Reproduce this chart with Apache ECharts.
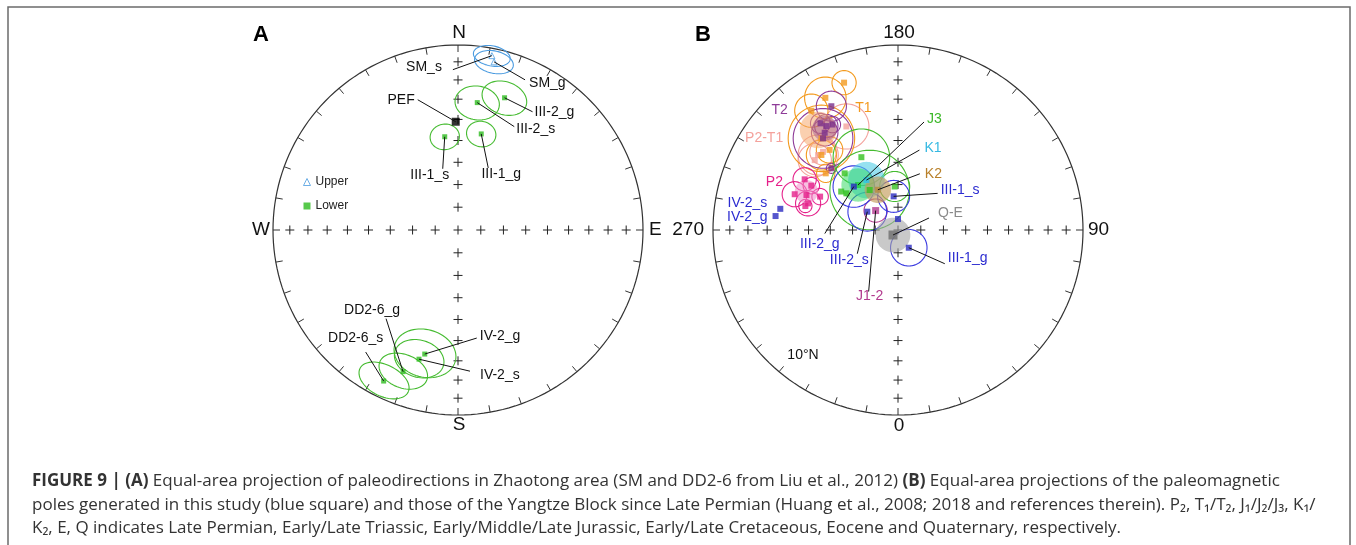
<!DOCTYPE html>
<html><head><meta charset="utf-8">
<script src="https://cdn.jsdelivr.net/npm/echarts@6/dist/echarts.min.js"></script>
<style>html,body{margin:0;padding:0;background:#fff}#c{width:1356px;height:545px}</style>
</head><body><div id="c"></div>
<script>
// ===== Panel A: site-mean directions [dec, inc, a95] =====
const dirNames = ['SM_s','SM_g','PEF','III-2_s','III-2_g','III-1_s','III-1_g','DD2-6_s','DD2-6_g','IV-2_g','IV-2_s'];
const dirDec   = [11.0, 12.1, 358.8, 8.6, 19.4, 351.9, 13.6, 206.2, 201.2, 195.0, 196.8];
const dirInc   = [-4.5, -7.8, 41.1, 31.0, 25.2, 47.8, 45.6, 9.9, 19.0, 31.2, 27.9];
const dirA95   = [6.0, 6.5, 0, 8.5, 8.5, 6.0, 6.0, 9.0, 9.0, 12.0, 9.5];

// ===== Panel B: poles [lon, lat, A95] =====
const polesT1   = [[200.1,16.3,5.3],[208.8,19.6,9.1],[216.0,21.4,7.3],[219.9,35.7,14.6],[220.5,42.5,5.8],[231.9,48.9,4.0],[225.6,41.6,6.6]];
const polesT2   = [[208.3,25.0,6.6],[216.0,29.5,4.4],[214.6,32.3,5.1],[211.9,33.3,3.6],[217.0,34.5,5.8],[219.3,36.2,13.1],[227.2,49.4,2.2]];
const polesP2T1 = [[206.5,37.5,9.9],[226.8,40.5,8.8],[230.0,40.9,7.3],[223.8,41.1,5.8]];
const polesP2   = [[241.5,42.1,5.1],[242.9,46.3,3.6],[250.9,40.6,5.5],[246.8,52.2,3.6],[253.5,48.0,5.5],[249.1,46.0,0],[255.5,47.1,2.9]];
const polesJ3   = [[206.7,53.7,12.4],[223.3,55.4,0],[235.9,59.6,0],[234.6,62.0,0],[184.4,70.8,6.6],[215.3,68.4,17.5]];
const polesJ12  = [[229.0,77.0,5.1]];
const studyNames = ['III-2_g','III-2_s','III-1_s','III-1_g','IV-2_s','IV-2_g',''];
const polesStudy = [[225.5,62.6,9.1],[239.2,74.3,8.5],[187.4,75.1,7.0],[31.3,80.9,8.0],[259.8,35.6,0],[263.5,33.8,0],[180.0,85.2,0]];
// mean poles (shaded)
const meanT2   = [[215.8,32.8,5.5]];
const meanP2T1 = [[218.6,31.4,8.0]];
const meanP2   = [[247.3,45.4,5.1]];
const meanJ3   = [[221.6,63.4,7.3]];
const meanK1   = [[212.3,63.9,8.0]];
const meanK2   = [[206.6,70.2,5.8]];
const meanQE   = [[315.0,86.9,7.6]];

// net ticks
const crossIncs = [10,20,30,40,50,60,70,80];
const rimTicks = Array.from({length:36},(_,i)=>i*10);

const FONT = '"Liberation Sans", Arial, Helvetica, sans-serif';
const CAPFONT = '"Open Sans", "Liberation Sans", Arial, sans-serif';
const D = Math.PI/180;

function projDir(dec, inc){ const r=Math.SQRT2*Math.sin((90-Math.abs(inc))*D/2); return [r*Math.sin(dec*D), r*Math.cos(dec*D)]; }
function projPole(lon, lat){ const r=Math.SQRT2*Math.sin((90-lat)*D/2); return [r*Math.sin(lon*D), -r*Math.cos(lon*D)]; }
function coneA(dec, inc, a95){
  const I=Math.abs(inc)*D, Dd=dec*D, a=a95*D;
  const m=[Math.cos(I)*Math.cos(Dd), Math.cos(I)*Math.sin(Dd), Math.sin(I)];
  const u=[Math.sin(I)*Math.cos(Dd), Math.sin(I)*Math.sin(Dd), -Math.cos(I)];
  const v=[-Math.sin(Dd), Math.cos(Dd), 0];
  const pts=[];
  for(let k=0;k<72;k++){ const t=k*5*D;
    const p=[0,1,2].map(i=>Math.cos(a)*m[i]+Math.sin(a)*(Math.cos(t)*u[i]+Math.sin(t)*v[i]));
    const h=Math.hypot(p[0],p[1])||1e-9; const r=Math.sqrt(Math.max(0,1-p[2]));
    pts.push([r*p[1]/h, r*p[0]/h]); }
  return pts;
}

function netSeries(gi, card, off){
  return {type:'custom', xAxisIndex:gi, yAxisIndex:gi, silent:true, clip:false, z:1, data:[[0,0]],
    renderItem(params, api){
      const ch=[];
      const rim=[]; for(let k=0;k<=360;k+=2) rim.push(api.coord([Math.sin(k*D),Math.cos(k*D)]));
      ch.push({type:'polyline', shape:{points:rim}, style:{stroke:'#333', lineWidth:1.2, fill:null}});
      const c=api.coord([0,0]);
      rimTicks.forEach(az=>{ const p=api.coord([Math.sin(az*D),Math.cos(az*D)]); const L=Math.hypot(p[0]-c[0],p[1]-c[1]);
        const ux=(c[0]-p[0])/L, uy=(c[1]-p[1])/L;
        ch.push({type:'line', shape:{x1:p[0],y1:p[1],x2:p[0]+ux*7,y2:p[1]+uy*7}, style:{stroke:'#333',lineWidth:1}}); });
      const cp=[[0,0]]; crossIncs.forEach(i=>{const r=Math.SQRT2*Math.sin((90-i)*D/2); cp.push([r,0],[-r,0],[0,r],[0,-r]);});
      cp.forEach(q=>{ const p=api.coord(q);
        ch.push({type:'line',shape:{x1:p[0]-4.5,y1:p[1],x2:p[0]+4.5,y2:p[1]},style:{stroke:'#222',lineWidth:1}});
        ch.push({type:'line',shape:{x1:p[0],y1:p[1]-4.5,x2:p[0],y2:p[1]+4.5},style:{stroke:'#222',lineWidth:1}}); });
      const t=api.coord([0,1]), b=api.coord([0,-1]), l=api.coord([-1,0]), r=api.coord([1,0]);
      const f='19px '+FONT;
      ch.push({type:'text', x:t[0]+1, y:t[1]+off[0], style:{text:card[0], font:f, fill:'#111', align:'center', verticalAlign:'middle'}});
      ch.push({type:'text', x:r[0]+off[1], y:r[1], style:{text:card[1], font:f, fill:'#111', align:'left', verticalAlign:'middle'}});
      ch.push({type:'text', x:b[0]+1, y:b[1]+off[2], style:{text:card[2], font:f, fill:'#111', align:'center', verticalAlign:'middle'}});
      ch.push({type:'text', x:l[0]+off[3], y:l[1], style:{text:card[3], font:f, fill:'#111', align:'right', verticalAlign:'middle'}});
      return {type:'group', children:ch};
    }};
}

function ellipsesA(idx, color){
  return {type:'custom', xAxisIndex:0, yAxisIndex:0, silent:true, clip:false, z:2,
    data: idx.map(i=>[dirDec[i], dirInc[i], dirA95[i]]),
    renderItem(params, api){
      const pts=coneA(api.value(0), api.value(1), api.value(2)).map(q=>api.coord(q));
      return {type:'polygon', shape:{points:pts}, style:{fill:null, stroke:color, lineWidth:1.1}};
    }};
}

function circlesB(list, stroke, fill, z){
  return {type:'custom', xAxisIndex:1, yAxisIndex:1, silent:true, clip:false, z:z||2,
    data: list.filter(d=>d[2]>0),
    renderItem(params, api){
      const c=projPole(api.value(0), api.value(1)); const rho=Math.SQRT2*Math.sin(api.value(2)*D/2);
      const pts=[]; for(let k=0;k<72;k++){const t=k*5*D; pts.push(api.coord([c[0]+rho*Math.cos(t), c[1]+rho*Math.sin(t)]));}
      return {type:'polygon', shape:{points:pts}, style: fill ? {fill:fill, stroke:null} : {fill:null, stroke:stroke, lineWidth:1.1}};
    }};
}
function pointsB(list, color, size, name){
  return {type:'scatter', name:name, xAxisIndex:1, yAxisIndex:1, silent:true, z:4, symbol:'rect', symbolSize:size||6,
    itemStyle:{color:color}, data:list.map(d=>projPole(d[0],d[1]))};
}

// ===== label layout (pixel offsets from the anchor mark) =====
const layoutA = {
  'SM_s':{line:[-39,14], text:[-50,11], align:'right'},
  'SM_g':{line:[31,18], text:[35,21], align:'left'},
  'PEF':{line:[-38,-22], text:[-41,-22], align:'right'},
  'III-2_g':{line:[28,14], text:[30,14], align:'left'},
  'III-2_s':{line:[37,24], text:[39,27], align:'left'},
  'III-1_s':{line:[-2,32], text:[-15,38], align:'center'},
  'III-1_g':{line:[7,34], text:[20,40], align:'center'},
  'DD2-6_g':{line:[-17,-53], text:[-31,-62], align:'center'},
  'DD2-6_s':{line:[-18,-29], text:[-28,-43], align:'center'},
  'IV-2_g':{line:[52,-16], text:[55,-18], align:'left'},
  'IV-2_s':{line:[51,12], text:[61,16], align:'left'}
};
const BLUE='#2B2BD0';
const labelsB = [
  {t:'T2', at:meanT2[0], c:'#8E3B98', text:[-45,-18], align:'center'},
  {t:'T1', at:polesT1[1], c:'#F39A1E', text:[38,10], align:'center'},
  {t:'P2-T1', at:meanP2T1[0], c:'#F4A29C', text:[-54,8], align:'center'},
  {t:'P2', at:meanP2[0], c:'#E5208A', text:[-32,-10], align:'center'},
  {t:'J3', at:meanJ3[0], c:'#3CB829', line:[66,-63], text:[69,-66], align:'left'},
  {t:'K1', at:meanK1[0], c:'#36B9E2', line:[53,-30], text:[58,-32], align:'left'},
  {t:'K2', at:meanK2[0], c:'#B8802A', line:[42,-16], text:[47,-16], align:'left'},
  {t:'III-1_s', at:polesStudy[2], c:BLUE, line:[44,-3], text:[47,-6], align:'left'},
  {t:'Q-E', at:meanQE[0], c:'#8A8A8A', line:[36,-17], text:[45,-22], align:'left'},
  {t:'III-1_g', at:polesStudy[3], c:BLUE, line:[36,16], text:[39,10], align:'left'},
  {t:'IV-2_s', at:polesStudy[4], c:BLUE, text:[-13,-6], align:'right'},
  {t:'IV-2_g', at:polesStudy[5], c:BLUE, text:[-8,1], align:'right'},
  {t:'III-2_g', at:polesStudy[0], c:BLUE, line:[-29,47], text:[-34,58], align:'center'},
  {t:'III-2_s', at:polesStudy[1], c:BLUE, line:[-10,42], text:[-18,48], align:'center'},
  {t:'J1-2', at:polesJ12[0], c:'#B23A8E', line:[-7,81], text:[-6,86], align:'center'}
];

function labelSeries(gi, items){
  return {type:'custom', xAxisIndex:gi, yAxisIndex:gi, silent:true, clip:false, z:6,
    data: items.map(o=>o.p),
    renderItem(params, api){
      const o=items[params.dataIndex]; const p=api.coord([api.value(0),api.value(1)]); const ch=[];
      if(o.line) ch.push({type:'line', shape:{x1:p[0],y1:p[1],x2:p[0]+o.line[0],y2:p[1]+o.line[1]}, style:{stroke:'#111',lineWidth:1}});
      ch.push({type:'text', x:p[0]+o.text[0], y:p[1]+o.text[1], style:{text:o.t, font:'14px '+FONT, fill:o.c, align:o.align, verticalAlign:'middle'}});
      return {type:'group', children:ch};
    }};
}

const itemsA = dirNames.map((n,i)=>Object.assign({t:n, c:'#111', p:projDir(dirDec[i],dirInc[i])}, layoutA[n]));
const itemsB = labelsB.map(o=>Object.assign({p:projPole(o.at[0],o.at[1])}, o));

const upIdx=[], lowIdx=[];
dirNames.forEach((n,i)=>{ if(n==='PEF') return; (dirInc[i]<0?upIdx:lowIdx).push(i); });

const chart = echarts.init(document.getElementById('c'), null, {renderer:'canvas'});
const CAPSIZE = 17;
const capRich = {b:{fontWeight:'bold', fontSize:CAPSIZE, fontFamily:CAPFONT, color:'#222'}, g:{fontSize:CAPSIZE, fontFamily:CAPFONT, color:'#9a9a9a'}};
const capFont = CAPSIZE+'px '+CAPFONT;
chart.setOption({
  animation:false,
  grid:[{left:273, top:45, width:370, height:370},{left:713, top:45, width:370, height:370}],
  xAxis:[{gridIndex:0,type:'value',min:-1,max:1,show:false},{gridIndex:1,type:'value',min:-1,max:1,show:false}],
  yAxis:[{gridIndex:0,type:'value',min:-1,max:1,show:false},{gridIndex:1,type:'value',min:-1,max:1,show:false}],
  legend:{orient:'vertical', left:298, top:171, itemWidth:7, itemHeight:7, itemGap:12, selectedMode:false,
    textStyle:{fontSize:12, fontFamily:FONT, color:'#222'},
    data:[{name:'Upper', icon:'triangle', itemStyle:{color:'#fff', borderColor:'#4A9BE0', borderWidth:1}},{name:'Lower', icon:'rect'}]},
  series:[
    netSeries(0, ['N','E','S','W'], [-12,6,10,-3]),
    netSeries(1, ['180','90','0','270'], [-12,5,11,-9]),
    ellipsesA(upIdx, '#4A9BE0'),
    ellipsesA(lowIdx.filter(i=>dirA95[i]>0), '#45BB30'),
    {type:'scatter', name:'Upper', xAxisIndex:0, yAxisIndex:0, symbol:'triangle', symbolSize:6, z:4, silent:true,
      itemStyle:{color:'#fff', borderColor:'#4A9BE0', borderWidth:1}, data:upIdx.map(i=>projDir(dirDec[i],dirInc[i]))},
    {type:'scatter', name:'Lower', xAxisIndex:0, yAxisIndex:0, symbol:'rect', symbolSize:5, z:4, silent:true,
      itemStyle:{color:'#2DBB1E'}, data:lowIdx.map(i=>projDir(dirDec[i],dirInc[i]))},
    {type:'scatter', name:'PEF', xAxisIndex:0, yAxisIndex:0, symbol:'rect', symbolSize:8, z:4, silent:true,
      itemStyle:{color:'#000'}, data:[projDir(dirDec[2],dirInc[2])]},
    labelSeries(0, itemsA),
    // panel B circles
    circlesB(polesP2T1, '#F4A29C'),
    circlesB(polesT1, '#F39A1E'),
    circlesB(polesT2, '#8E3B98'),
    circlesB(polesP2, '#E5208A'),
    circlesB(polesJ3, '#45BB30'),
    circlesB(polesJ12, '#B23A8E'),
    circlesB(polesStudy, '#3A3AE0'),
    // shaded means
    circlesB(meanP2T1, null, 'rgba(245,170,110,0.55)', 3),
    circlesB(meanT2, null, 'rgba(130,50,140,0.35)', 3),
    circlesB(meanP2, null, 'rgba(240,140,200,0.55)', 3),
    circlesB(meanK1, null, 'rgba(80,205,230,0.6)', 3),
    circlesB(meanJ3, null, 'rgba(40,215,90,0.5)', 3),
    circlesB(meanK2, null, 'rgba(195,155,90,0.65)', 3),
    circlesB(meanQE, null, 'rgba(165,165,165,0.6)', 3),
    // points
    pointsB(polesP2T1, '#F4A29C'),
    pointsB(polesT1, '#F39A1E'),
    pointsB(polesT2, '#7A2F8C'),
    pointsB(polesP2, '#E5208A'),
    pointsB(polesJ3, '#35C21F'),
    pointsB(meanJ3, '#22D040'),
    pointsB(meanK1, '#30C0E8'),
    pointsB(meanK2, '#B88A40'),
    pointsB(polesJ12, '#B23A8E', 7),
    pointsB(polesStudy, '#2B2BC0'),
    pointsB(meanQE, '#6E6E6E', 9),
    labelSeries(1, itemsB)
  ],
  graphic:[
    {type:'rect', silent:true, shape:{x:8, y:7, width:1342, height:560}, style:{fill:null, stroke:'#6b6b6b', lineWidth:1.5}},
    {type:'text', x:261, y:35, style:{text:'A', font:'bold 22px '+FONT, fill:'#000', align:'center', verticalAlign:'middle'}},
    {type:'text', x:703, y:35, style:{text:'B', font:'bold 22px '+FONT, fill:'#000', align:'center', verticalAlign:'middle'}},
    {type:'text', x:803, y:355, style:{text:'10°N', font:'14px '+FONT, fill:'#111', align:'center', verticalAlign:'middle'}},
    {type:'text', x:32, y:481, style:{text:'{b|FIGURE 9 | (A)} Equal-area projection of paleodirections in Zhaotong area (SM and DD2-6 from {g|Liu et al., 2012}) {b|(B)} Equal-area projections of the paleomagnetic', font:capFont, fill:'#333', verticalAlign:'middle', rich:capRich}},
    {type:'text', x:32, y:505, style:{text:'poles generated in this study (blue square) and those of the Yangtze Block since Late Permian ({g|Huang et al., 2008}; {g|2018} and references therein). P₂, T₁/T₂, J₁/J₂/J₃, K₁/', font:capFont, fill:'#333', verticalAlign:'middle', rich:capRich}},
    {type:'text', x:32, y:528, style:{text:'K₂, E, Q indicates Late Permian, Early/Late Triassic, Early/Middle/Late Jurassic, Early/Late Cretaceous, Eocene and Quaternary, respectively.', font:capFont, fill:'#333', verticalAlign:'middle'}}
  ]
});
</script></body></html>
